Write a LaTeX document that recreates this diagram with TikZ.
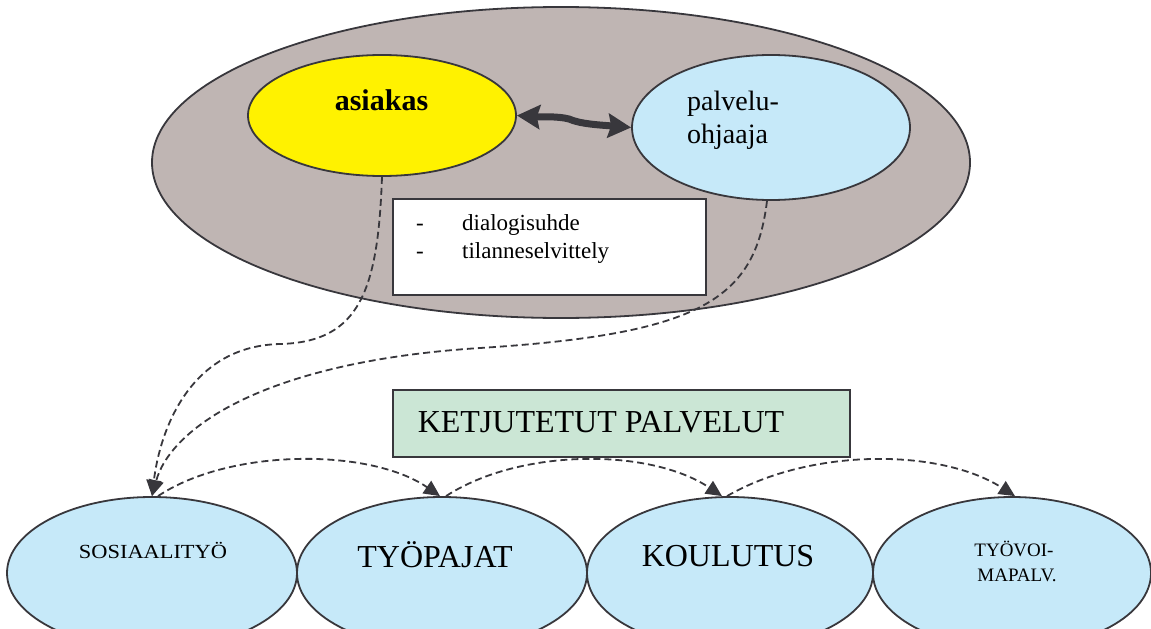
\documentclass[tikz,border=0pt]{standalone}
\usepackage{fontspec}
\setmainfont{Liberation Serif}
\usetikzlibrary{arrows.meta,shapes.geometric}
\definecolor{ink}{HTML}{38373C}
\definecolor{taupe}{HTML}{BFB5B3}
\definecolor{sun}{HTML}{FFF200}
\definecolor{sky}{HTML}{C6E9F9}
\definecolor{mint}{HTML}{CBE6D5}
\tikzset{
  oval/.style={ellipse,draw=ink,line width=1.8pt,inner sep=0pt},
  boxed/.style={draw=ink,line width=1.8pt,inner sep=0pt},
  lbl/.style={inner sep=0pt,text=black},
  lnk/.style={ink,line width=1.8pt,dash pattern=on 7pt off 4pt,-{Triangle[length=16pt,width=15pt]}},
  dbl/.style={ink,line width=7pt,{Stealth[length=23pt,width=24pt,inset=3pt]}-{Stealth[length=23pt,width=24pt,inset=3pt]}}
}
\newcommand{\fs}[1]{\fontsize{#1}{#1}\selectfont}

\begin{document}
\begin{tikzpicture}[x=1pt,y=-1pt]
\useasboundingbox (0,0) rectangle (1151,629);
\node[oval,fill=taupe,minimum width=818pt,minimum height=311pt] (kehys) at (561,162.5) {};
\node[oval,fill=sun,minimum width=268pt,minimum height=121pt] (asiakas) at (382,115.5) {};
\node[oval,fill=sky,minimum width=278pt,minimum height=145pt] (ohjaaja) at (771,127.5) {};
\node[lbl,anchor=base,font={\bfseries\fs{30}}] (asiakastxt) at (381.5,110) {asiakas};
\node[lbl,anchor=base west,font={\fs{28}}] (ohjaaja1) at (687,110) {palvelu-};
\node[lbl,anchor=base west,font={\fs{28}}] (ohjaaja2) at (687,143) {ohjaaja};
\draw[dbl] (asiakas.east) .. controls (540,117) and (558,116) .. (569,119) .. controls (580,124) and (600,125) .. (ohjaaja.west);
\node[boxed,fill=white,minimum width=313pt,minimum height=96pt] (keino) at (549.5,247) {};
\node[lbl,anchor=base west,font={\fs{23}}] (viiva1) at (416,230) {-};
\node[lbl,anchor=base west,font={\fs{23}}] (keino1) at (462,230) {dialogisuhde};
\node[lbl,anchor=base west,font={\fs{23}}] (viiva2) at (416,258) {-};
\node[lbl,anchor=base west,font={\fs{23}}] (keino2) at (462,258) {tilanneselvittely};
\node[boxed,fill=mint,minimum width=457pt,minimum height=67pt] (ketju) at (621.5,423.5) {};
\node[lbl,anchor=base,font={\fs{32}}] (ketjutxt) at (601,432) {KETJUTETUT PALVELUT};
\node[oval,fill=sky,minimum width=290pt,minimum height=152pt] (sos) at (152,573) {};
\node[oval,fill=sky,minimum width=290pt,minimum height=152pt] (typ) at (442,573) {};
\node[oval,fill=sky,minimum width=286pt,minimum height=152pt] (kou) at (730,573) {};
\node[oval,fill=sky,minimum width=278pt,minimum height=152pt] (tyv) at (1012,573) {};
\node[lbl,anchor=base,font={\fs{20}}] (sostxt) at (153,558) {\scalebox{1.12}[1]{SOSIAALITYÖ}};
\node[lbl,anchor=base,font={\fs{32}}] (typtxt) at (435,567) {TYÖPAJAT};
\node[lbl,anchor=base,font={\fs{32}}] (koutxt) at (728,566) {KOULUTUS};
\node[lbl,anchor=base,font={\fs{19}}] (tyvtxt1) at (1014,556) {TYÖVOI-};
\node[lbl,anchor=base,font={\fs{19}}] (tyvtxt2) at (1017,581) {MAPALV.};
\draw[lnk] (asiakas.south) .. controls (378,290) and (360,342) .. (280,344) .. controls (190,346) and (160,430) .. (sos.north);
\draw[lnk] ([xshift=-4pt]ohjaaja.south) .. controls (755,300) and (700,334) .. (480,348) .. controls (260,362) and (170,430) .. (sos.north);
\draw[lnk] ([xshift=6pt]sos.north) .. controls (230,448) and (370,448) .. ([xshift=-2pt]typ.north);
\draw[lnk] ([xshift=4pt]typ.north) .. controls (520,448) and (650,448) .. ([xshift=-8pt]kou.north);
\draw[lnk] ([xshift=-3pt]kou.north) .. controls (810,448) and (940,448) .. ([xshift=3pt]tyv.north);
\end{tikzpicture}
\end{document}
